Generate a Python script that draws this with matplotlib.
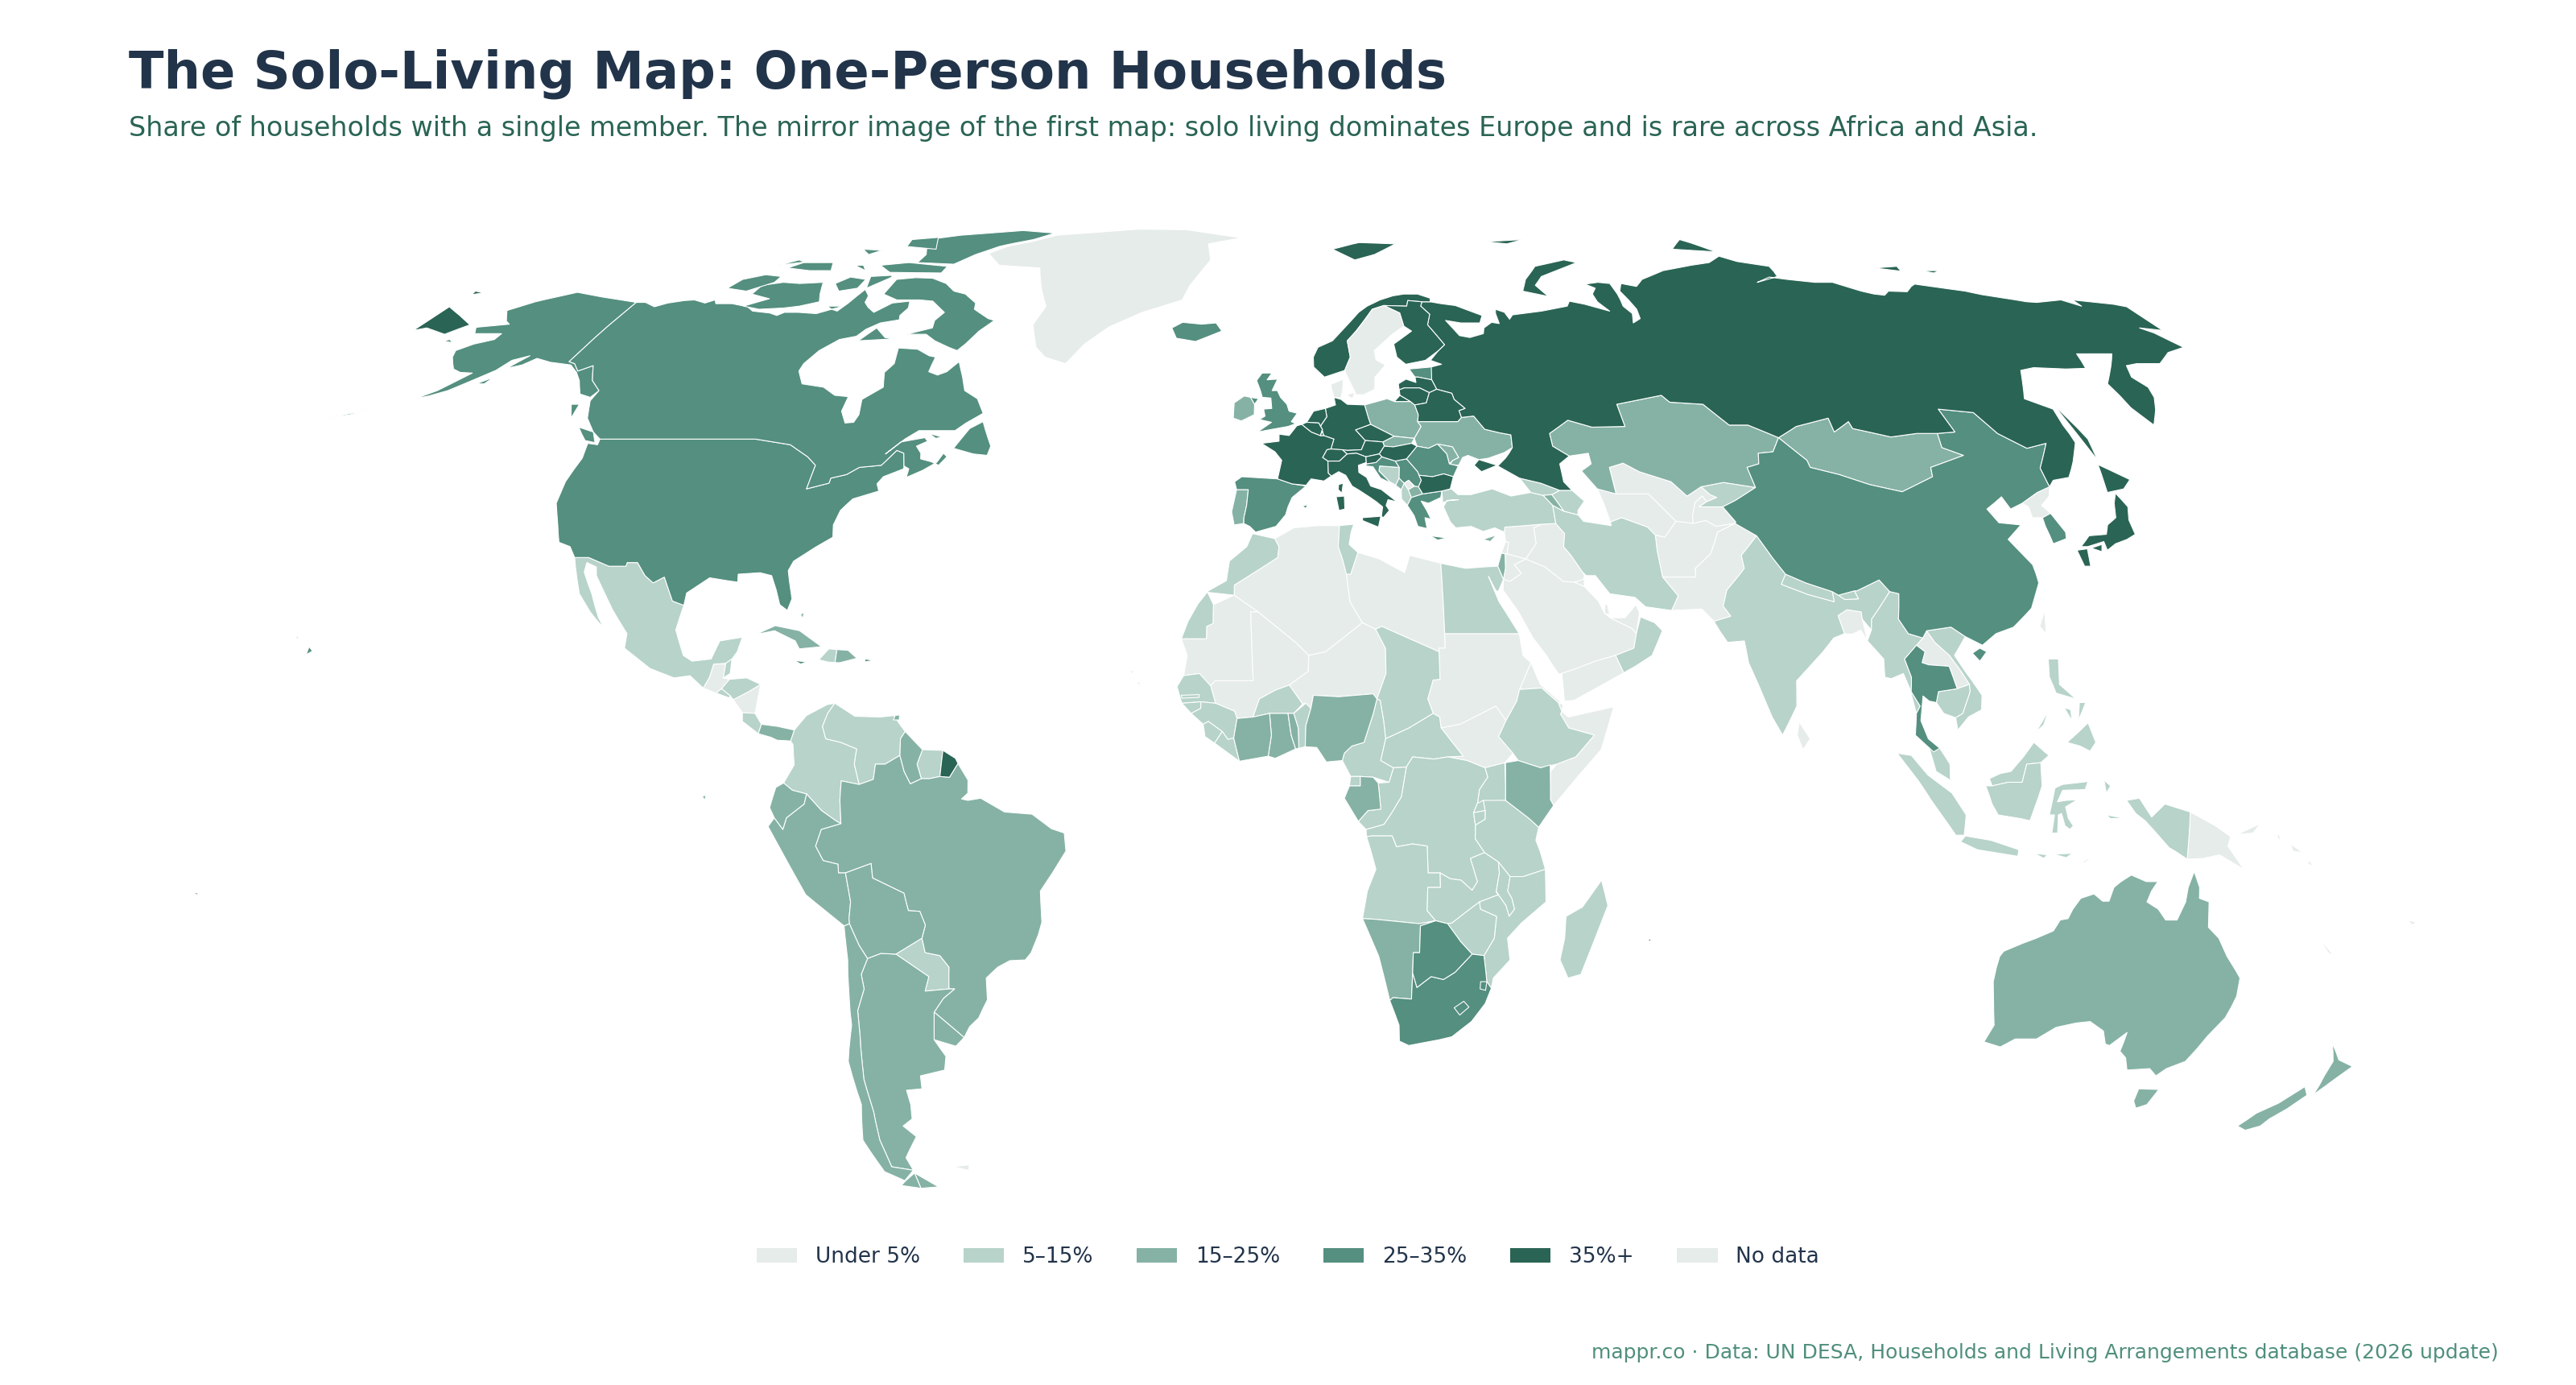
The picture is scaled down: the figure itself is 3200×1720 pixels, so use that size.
import numpy as np
import matplotlib
matplotlib.use("Agg")
import matplotlib.pyplot as plt
from matplotlib.patches import Polygon, Patch

TITLE = "The Solo-Living Map: One-Person Households"
SUBTITLE = "Share of households with a single member. The mirror image of the first map: solo living dominates Europe and is rare across Africa and Asia."
SOURCE = "mappr.co · Data: UN DESA, Households and Living Arrangements database (2026 update)"
LEGEND_LABELS = ["Under 5%", "5–15%", "15–25%", "25–35%", "35%+", "No data"]
LEGEND_COLORS = ["#e6ecea", "#b7d3ca", "#85b2a4", "#548f7f", "#2a6454", "#e6ecea"]

UNDER_5 = ["Algeria", "Libya", "Mauritania", "Mali", "Niger", "Sudan", "South Sudan", "Eritrea", "Djibouti", "Somalia",
           "Saudi Arabia", "Yemen", "UAE", "Qatar", "Kuwait", "Iraq", "Syria", "Jordan", "Lebanon", "Turkmenistan",
           "Uzbekistan", "Tajikistan", "Afghanistan", "Pakistan", "Bangladesh", "Laos", "North Korea", "Sri Lanka",
           "Papua New Guinea", "Guatemala", "Nicaragua"]
BAND_5_15 = ["Mexico", "Honduras", "El Salvador", "Belize", "Costa Rica", "Colombia", "Venezuela", "Suriname", "Paraguay",
             "Haiti", "Morocco", "Tunisia", "Egypt", "Turkey", "Iran", "Azerbaijan", "Georgia", "Senegal", "Gambia",
             "Guinea-Bissau", "Guinea", "Sierra Leone", "Liberia", "Burkina Faso", "Benin", "Chad", "Cameroon",
             "Central African Rep.", "Ethiopia", "Uganda", "Tanzania", "DR Congo", "Congo", "Angola", "Zambia", "Malawi",
             "Mozambique", "Zimbabwe", "Rwanda", "Burundi", "Madagascar", "Equatorial Guinea", "Oman", "India", "Myanmar",
             "Cambodia", "Vietnam", "Malaysia", "Indonesia", "Philippines", "Bhutan", "Nepal", "Kyrgyzstan", "Bosnia",
             "Albania"]
BAND_15_25 = ["Ireland", "Portugal", "Poland", "Ukraine", "Slovakia", "Moldova", "Kazakhstan", "Mongolia", "Australia",
              "New Zealand", "Brazil", "Argentina", "Chile", "Peru", "Ecuador", "Bolivia", "Uruguay", "Guyana", "Cuba",
              "Panama", "Dominican Rep.", "Namibia", "Nigeria", "Ghana", "Ivory Coast", "Togo", "Gabon", "Kenya", "Israel",
              "Armenia", "Montenegro", "North Macedonia", "Cyprus", "Trinidad", "Bahamas"]
BAND_25_35 = ["USA", "Canada", "Iceland", "UK", "Spain", "Romania", "Estonia", "Croatia", "Serbia", "Greece",
              "South Africa", "Lesotho", "Eswatini", "Botswana", "China", "South Korea", "Thailand", "Jamaica",
              "Puerto Rico"]
BAND_35_UP = ["Russia", "Norway", "Finland", "Germany", "France", "Netherlands", "Belgium", "Luxembourg", "Czechia",
              "Austria", "Hungary", "Italy", "Switzerland", "Latvia", "Lithuania", "Belarus", "Bulgaria", "Slovenia",
              "Japan", "French Guiana", "Mauritius", "Samoa", "Cape Verde"]
NO_DATA = ["Greenland", "Sweden", "Denmark", "Kosovo", "Taiwan", "Solomon Is.", "Falklands", "New Caledonia", "Fiji"]

SHAPES = {
"Canada": ["-141,69.6 -139,69.6 -136,68.9 -134,69.5 -131,69.9 -129,70 -126,69.5 -124.5,70 -123.5,69.4 -120,69.4 -116,68.9 -114,68.2 -110,67.9 -108,67.5 -107,68 -104,68 -100,67.8 -97.5,68.5 -96,68.2 -95,69.5 -94,71.8 -92,70.7 -91.5,69.6 -90,68.8 -88,68 -85.5,69.5 -82,69.8 -81.3,68.7 -82,67.5 -81.5,66.8 -85,66.3 -87,65.3 -88,64.2 -91,63.7 -93.5,62 -94.7,60 -94.7,58.9 -92.5,57 -88,56.5 -85,55.3 -82.3,55.1 -82.2,53 -80.5,51.3 -79,51.4 -78.7,52.5 -79.5,54.7 -76.7,56.5 -78,58.7 -77,60 -78,62.4 -74,62.2 -71,61.2 -69.6,61 -69.5,58.8 -67.5,58.3 -66,58.8 -64.5,60.3 -62.5,58 -61,56 -58,54.8 -56,52.7 -58.5,51.3 -60,50.2 -66.5,50.2 -68.5,49 -71,46.9 -69,48.6 -65,49.2 -64.3,48.7 -66,48 -64.8,47 -64.5,46.2 -62.5,45.8 -61,45.3 -60,46.5 -60.8,47 -61.5,45.7 -63.5,44.6 -66,43.6 -66,44.8 -67,45.2 -67.8,47 -69.2,47.4 -71,45.3 -74.7,45 -76.5,44 -79,43.5 -79,42.8 -82.5,42 -82.5,45.3 -84.5,46.5 -88.5,48.2 -95.2,49 -123,49 -125,50 -128,52 -130,54.5 -130,56 -133,57.5 -135.5,59.7 -137.5,58.9 -139.5,60 -141,60.3",
  "-123.5,48.5 -125.5,48.8 -128.3,50.7 -125,50", "-59.3,47.7 -55.5,46.9 -53,46.7 -52.8,48 -55.5,51.5 -57.5,50.5",
  "-61.5,66.7 -63.5,65 -65,63 -66,62 -68,62.5 -71.5,63.5 -74,64.5 -78,64.5 -73.5,65.5 -74,66.7 -73,68 -77,69.8 -80,70 -85,70 -89,71 -89,73.5 -85,73.8 -81,73.7 -77,72.8 -74,71.5 -71,71 -67.5,69.5 -67,68.5 -63,67",
  "-101.5,69.7 -105,69 -108,68.7 -113,68.5 -117,69 -113,70.2 -118,71 -118,72.5 -114,73 -110,72.8 -105,73 -103,71", "-116,73 -120,71.5 -125,72 -124,73.5 -120,74.3 -116,74",
  "-61,82.5 -70,83.1 -85,82 -92,81 -88,78 -88,76.5 -79,76.2 -76,78 -72,79.5 -65,81", "-80,74.6 -92,74.7 -96,76 -90,76.5 -80,75.8",
  "-87,79 -95,79.5 -96,81 -90,81.5", "-106,75 -111,75 -117,75.5 -115,76.5 -108,76.5", "-80,63.8 -87,63.5 -85,65.5 -82,64",
  "-96,72 -99.5,71.5 -102,72.8 -100,73.9 -96,73.5", "-90.5,73.9 -94,72 -95.5,74 -91,74.2", "-95.5,69 -99,69 -97.5,68.5",
  "-120,76 -117,77 -115,76.6", "-98,75 -100,76 -102,76", "-100,78.8 -105,79 -102,78", "-131,52 -133,54 -131.5,54", "-64.5,49.8 -62,49.3 -63,49.1"],
"USA": ["-123,49 -95.2,49 -88.5,48.2 -84.5,46.5 -82.5,45.3 -82.5,42 -79,42.8 -79,43.5 -76.5,44 -74.7,45 -71,45.3 -69.2,47.4 -67.8,47 -67,45.2 -66.9,44.8 -70,43.7 -70.7,42.7 -70,41.7 -74,40.6 -75.5,39 -76,37 -75.5,35.3 -78,33.9 -81,32 -81.5,30.7 -80,26.8 -80.4,25.2 -81.8,26 -82.8,28 -84,30 -86,30.4 -89.5,30.2 -89.3,29.1 -91,29.3 -94,29.7 -97.2,27.6 -97.2,25.9 -99.2,26.5 -101.4,29.8 -103,29 -104.6,30 -106.5,31.8 -108.2,31.8 -108.2,31.3 -111,31.3 -114.8,32.5 -117.1,32.5 -118.5,34 -120.6,34.6 -122,36.9 -124,40 -124.5,43 -124,46.3 -124.7,48.4 -122.8,48.2",
  "-141,69.6 -141,60.3 -139.5,60 -137.5,58.9 -135.5,59.7 -133,57.5 -130,56 -130.5,55 -133,55.5 -135.5,57.5 -137.5,58.7 -140,59.8 -144.5,60.2 -148,60.8 -149.5,59.8 -151.8,59.3 -150,61.2 -152.5,60.5 -153.5,59 -156,57.5 -158.5,56 -161,55.2 -163,54.8 -160.5,56 -157.5,58.6 -160,58.7 -162,59.2 -165,61 -166,62 -164,63 -161,63.7 -161,64.6 -166.5,64.6 -168,65.6 -162,66.1 -163.5,66.6 -166.5,68.3 -163,69.7 -157,71.3 -150,70.5 -145,70",
  "-165,54.4 -172,52.5 -178,51.6 -171,52.9", "-171,63.5 -168.7,63.2 -170,63.7", "-154.5,57 -152.5,58 -153,57",
  "-155.9,19.1 -155,19.6 -155.7,20.2", "-158.2,21.3 -157.7,21.4 -158,21.6"],
"Greenland": ["-73,78.2 -68,76 -58,75.5 -55,72 -52,69 -53,66 -50.5,62.5 -48,61 -43.5,60 -41,63 -37,65.7 -31,68 -23,70 -22,72.5 -20,75 -18.5,77 -20,80 -12,81.4 -27,83.3 -40,83.4 -60,82 -65,80.5 -70,79.5"],
"Mexico": ["-117.1,32.5 -114.8,32.5 -111,31.3 -108.2,31.3 -108.2,31.8 -106.5,31.8 -104.6,30 -103,29 -101.4,29.8 -99.2,26.5 -97.2,25.9 -97.8,22.5 -96,19 -94.5,18.2 -91.5,18.5 -90.5,21 -87,21.5 -87.5,19.5 -88.2,18.5 -89.1,17.9 -91,17.8 -91.4,16 -92.2,14.5 -94.5,16.2 -97,15.9 -101,17.2 -105.5,20 -105.5,22 -108.5,25.3 -112.5,30 -113,31.2 -114.8,31.8 -114.7,30.5 -112.5,27.5 -110.5,24.2 -109.5,23 -110.3,23.5 -112,25 -114.5,27.5 -115.5,29.5"],
"Guatemala": ["-92.2,14.5 -91.4,16 -91,17.8 -89.1,17.8 -89.2,15.9 -88.2,15.7 -89.3,14.4 -90.1,13.8"],
"Belize": ["-89.1,17.9 -88.2,18.5 -88.2,16.5 -89.2,15.9"],
"Honduras": ["-89.3,14.4 -88.2,15.7 -85.5,15.9 -83.2,15 -85,14 -87.3,12.9 -87.8,13.4"],
"El Salvador": ["-90.1,13.8 -89.3,14.4 -87.8,13.4 -88,13.15"],
"Nicaragua": ["-87.3,12.9 -85,14 -83.2,15 -83.7,11 -85.7,11.1"],
"Costa Rica": ["-85.7,11.1 -83.7,11 -82.6,9.5 -83,8.2 -85.6,9.9"],
"Panama": ["-83,8.2 -82.6,9.5 -80,9.2 -77.4,8.7 -77.9,7.2 -80,7.3 -81,7.7"],
"Cuba": ["-84.9,21.9 -82,23.1 -78,22.4 -74.2,20.2 -77.7,19.9 -78.5,21 -82,22.4"],
"Jamaica": ["-78.3,18.3 -76.3,18.1 -77.2,17.8"],
"Haiti": ["-74.4,18.4 -73,19.9 -71.7,19.8 -71.8,18 -73,18.1"],
"Dominican Rep.": ["-71.7,19.8 -69.9,19.7 -68.4,18.6 -71,18 -71.8,18"],
"Puerto Rico": ["-67.2,18.1 -65.7,18.3 -67,18.5"],
"Bahamas": ["-78.2,24.6 -77.7,24.1 -77.7,25"],
"Trinidad": ["-61.9,10.1 -61,10.1 -61,10.8 -61.7,10.7"],
"Colombia": ["-77.4,8.7 -75.6,10.7 -72.5,12.2 -71.3,12.4 -72.3,11 -73,9.2 -72.4,7.5 -70,7 -67.5,6.1 -67.8,4 -67,1.2 -69.8,1.7 -70,-1 -69.9,-4.2 -70.7,-3.8 -72.9,-2.4 -75.2,-0.1 -77.4,0.4 -78.8,1.4 -77.2,3.9 -77.5,6.7 -77.9,7.2"],
"Venezuela": ["-71.3,12.4 -70,11.7 -68,10.6 -64,10.5 -61.9,10.7 -60.8,9.4 -60,8.5 -60.7,7.5 -60.7,5.2 -63,4 -64.5,4 -64.8,1.9 -67,1.2 -67.8,4 -67.5,6.1 -70,7 -72.4,7.5 -73,9.2 -72.3,11"],
"Guyana": ["-60,8.5 -57.2,6 -58,4 -57.3,2 -59,1.3 -60,3 -60.7,5.2 -60.7,7.5"],
"Suriname": ["-57.2,6 -54,5.9 -54.4,2.3 -56,2 -57.3,2 -58,4"],
"French Guiana": ["-54,5.9 -52,4.8 -51.6,4.1 -52.9,2.2 -54.4,2.3"],
"Ecuador": ["-80.3,-3.4 -81,-2 -80,0.8 -78.8,1.4 -77.4,0.4 -75.2,-0.1 -75.6,-1.5 -78.4,-3.4 -79,-5", "-91.5,-0.4 -90.9,-0.3 -91.1,-1"],
"Peru": ["-81.3,-4.6 -80.3,-3.4 -79,-5 -78.4,-3.4 -75.6,-1.5 -75.2,-0.1 -72.9,-2.4 -70.7,-3.8 -69.9,-4.2 -73,-5 -74,-7.3 -72.9,-9.3 -70.6,-9.8 -70.6,-11 -69.5,-11 -69,-15 -69.5,-17.3 -69.5,-18 -70.4,-18.3 -76,-14 -78.5,-9.5"],
"Bolivia": ["-69.5,-11 -65.4,-9.7 -65.3,-11.7 -60.5,-13.8 -60,-16.2 -58.2,-16.3 -57.5,-18.2 -58.2,-20 -62.6,-22.2 -65,-22.1 -67.2,-22.8 -68.3,-21 -69.5,-18 -69.5,-17.3 -69,-15"],
"Paraguay": ["-58.2,-20 -57.9,-22 -55.6,-22.4 -54.3,-24 -54.7,-27 -58.6,-27.3 -57.7,-25.3 -62.6,-22.2"],
"Chile": ["-69.5,-18 -68.3,-21 -67.2,-22.8 -68.5,-25 -68.4,-27 -70,-30 -70.5,-33.5 -71,-36 -71.7,-39.5 -71.8,-44 -72.5,-48 -72.3,-50 -72.3,-51.8 -68.6,-52.3 -71,-53.8 -74,-52.5 -75.5,-48 -73.5,-43 -73.5,-37 -71.5,-32 -70.4,-23 -70.4,-18.3",
  "-68.6,-52.7 -68.6,-54.9 -72,-54.5 -71,-53.9"],
"Argentina": ["-65,-22.1 -62.6,-22.2 -57.7,-25.3 -58.6,-27.3 -54.7,-27 -53.8,-27 -55.8,-28.3 -57.6,-30.2 -58.4,-34 -57,-36.3 -57.7,-38.2 -62,-39 -62.3,-40.8 -65,-41 -65,-43 -65.5,-45 -67.5,-46 -65.8,-47.5 -69,-50.5 -68.6,-52.3 -72.3,-51.8 -72.3,-50 -72.5,-48 -71.8,-44 -71.7,-39.5 -71,-36 -70.5,-33.5 -70,-30 -68.4,-27 -68.5,-25 -67.2,-22.8",
  "-68.6,-52.7 -65.2,-54.7 -68.6,-54.9"],
"Uruguay": ["-57.6,-30.2 -53.4,-33.7 -55,-34.9 -58.4,-34"],
"Brazil": ["-51.6,4.1 -50,1.8 -50,0 -51,-0.8 -50,-1 -48,-0.7 -44.3,-2.6 -40,-2.9 -37,-4.9 -35,-5.5 -34.8,-8 -37,-11 -39,-13.5 -39,-17.8 -39.7,-19.6 -41,-22 -42,-23 -44.5,-23.1 -46.5,-24 -48.5,-25.5 -48.7,-28.5 -50.5,-31 -52.2,-32.2 -53.4,-33.7 -57.6,-30.2 -55.8,-28.3 -53.8,-27 -54.7,-27 -54.3,-24 -55.6,-22.4 -57.9,-22 -58.2,-20 -57.5,-18.2 -58.2,-16.3 -60,-16.2 -60.5,-13.8 -65.3,-11.7 -65.4,-9.7 -69.5,-11 -70.6,-11 -70.6,-9.8 -72.9,-9.3 -74,-7.3 -73,-5 -69.9,-4.2 -70,-1 -69.8,1.7 -67,1.2 -64.8,1.9 -64.5,4 -63,4 -60.7,5.2 -60,3 -59,1.3 -57.3,2 -56,2 -54.4,2.3 -52.9,2.2"],
"Falklands": ["-61,-51.8 -58,-51.5 -58.5,-52.3"],
"Iceland": ["-24,65.5 -22,66.4 -18,66.1 -15,66.3 -13.6,65 -18.7,63.4 -22.7,63.9"],
"Ireland": ["-10,52 -10,54.2 -8.2,55.2 -7,55 -6.2,54 -6.2,52.5 -8.5,51.6"],
"UK": ["-7,55 -5.5,54.8 -6.2,54", "-5.5,50 -3.5,50.3 0,50.8 1.4,51.2 0.6,51.5 1.7,52.7 0.2,53 -0.2,54 -1.4,55 -2,56 -3,56 -2,57.7 -4,57.6 -3.1,58.6 -5,58.6 -6,57.5 -5.2,56 -4.8,55 -3.2,54.9 -3,53.4 -4.5,53.3 -4.2,52.3 -5.2,51.8 -3,51.4"],
"France": ["-1.8,43.4 -1.1,46 -2.3,47.2 -4.7,48.4 -1.6,48.7 -1.6,49.7 0.2,49.5 1.6,50.9 2.5,51.1 4.2,50 5.8,49.5 6.4,49.5 8.2,49 7.6,47.6 6.9,47.5 6.1,46.4 7,45.9 7,44.2 7.5,43.8 6.2,43.1 4,43.4 3.1,42.5 0.7,42.7", "8.6,41.9 9.2,41.4 9.5,42.8 8.7,42.6"],
"Spain": ["-9.2,43 -8,43.7 -1.8,43.4 0.7,42.7 3.1,42.4 0.7,40.8 0,39.5 -0.4,38.4 -2,36.8 -5.4,36 -6.4,36.8 -7.4,37.2 -7.4,38 -7,39.7 -6.8,41.9 -8.8,41.9", "2.4,39.6 3.4,39.8 3,39.3"],
"Portugal": ["-8.8,41.9 -6.8,41.9 -7,39.7 -7.4,38 -7.4,37.2 -9,37 -9.5,38.8"],
"Netherlands": ["3.4,51.4 4.7,53 6.9,53.4 7.1,52.2 6,51 5.9,50.8 5.6,51.3"],
"Belgium": ["2.5,51.1 3.4,51.4 5.6,51.3 5.9,50.8 6.2,50.4 5.8,49.5 4.2,50"],
"Luxembourg": ["5.8,49.5 6.2,50.1 6.4,49.5"],
"Germany": ["6.9,53.4 8.8,53.9 8.6,55 9.9,54.7 11,54 14.2,53.9 14.7,52 15,51.1 12.2,50.3 13.8,48.8 13,47.5 10.5,47.4 7.6,47.6 8.2,49 6.4,49.5 6.2,50.1 6.2,50.4 5.9,50.8 6,51 7.1,52.2"],
"Switzerland": ["6.1,46.4 6.9,47.5 7.6,47.6 9.6,47.5 10.4,46.9 9,45.9 7,45.9"],
"Austria": ["9.6,47.5 10.5,47.4 13,47.5 13.8,48.8 16.9,48.6 17.1,48 16.1,46.9 13.7,46.5 12.1,47 10.4,46.9"],
"Italy": ["7,45.9 9,45.9 10.4,46.9 12.1,47 13.7,46.5 13.7,45.7 12.3,45.3 12.3,44.3 13.6,43.6 14.2,42.4 16,41.9 18.5,40.2 17,40.5 16.6,39.7 17.1,39 16,38 15.7,38.2 16,39.5 15,40.2 14,40.8 12.2,41.8 11,42.4 10,43.9 8.8,44.4 7.5,43.8 7,44.2", "12.5,38 15.6,38.2 15.1,36.7 12.5,37.6", "8.2,40.9 9.6,41 9.6,39.2 8.6,39"],
"Poland": ["14.2,53.9 18.5,54.8 19.8,54.4 22.8,54.4 23.5,53.9 23.9,52.5 23.6,51.5 24.1,50.8 22.6,49.1 19,49.4 15,51.1 14.7,52"],
"Denmark": ["8.6,55 8.1,56.9 10.6,57.7 10.3,56 9.9,54.9", "11,55.4 12.6,55.7 12,54.8"],
"Sweden": ["11,59 12.3,61 12,63.5 14,65 15.5,66.3 18,68.5 20.6,69.1 23.7,67.9 24,65.8 21.3,64.5 17.2,62 17.3,60.6 19,59.8 16.7,58 16.4,56.2 14.2,55.4 12.8,55.4 11.2,58.5", "18.2,57 19,57.8 18.8,57.4"],
"Norway": ["5,61 5,59.5 7,58 9,58.5 11,59 12.3,61 12,63.5 14,65 15.5,66.3 18,68.5 20.6,69.1 25.5,69 26,69.9 29,69.7 30.8,69.7 31,70.3 28.5,71 25.5,71 23,70.7 20,70 17,69 15,68 13,66.5 11,65 9,63.5 6,62.5", "11,79 16,77 21,78 27,80 18,80.3"],
"Finland": ["20.6,69.1 23.7,67.9 24,65.8 25.4,65 21.3,63 21.5,61 23,59.9 27,60.5 30,62 31.5,62.9 29,66 30,67.7 28.5,69 29,69.7 26,69.9 25.5,69"],
"Estonia": ["23.5,59.2 28,59.5 27.5,57.6 25,58 24.4,58"],
"Latvia": ["21,56.1 21,57 22.6,57.7 24.4,57.2 24.4,58 25,58 27.5,57.6 28.1,56.2 26.6,55.7 24.9,56.4 22,56.4"],
"Lithuania": ["21,56.1 22,56.4 24.9,56.4 26.6,55.7 25.7,54.2 23.5,53.9 22.8,54.4 21,55.3"],
"Belarus": ["23.5,53.9 25.7,54.2 26.6,55.7 28.1,56.2 30.8,55.6 31,54.7 32.7,53.4 31.5,53.1 31.7,52.1 30.9,51.5 23.6,51.5 23.9,52.5"],
"Ukraine": ["24.1,50.8 23.6,51.5 30.9,51.5 31.7,52.1 34,52.3 35.5,50.4 38,49.9 40,49.6 39.8,47.8 38.2,47.1 35.2,46.3 33.5,46.1 31.7,46.7 30.7,46.4 29.8,45.3 28.3,45.4 28.9,46 30,46.4 29.2,47.9 26.6,48.3 24.9,47.7 22.9,48 22.6,49.1"],
"Moldova": ["26.6,48.3 29.2,47.9 30,46.4 28.9,46 28.2,45.5 28,46.9"],
"Slovakia": ["17.1,48 16.9,48.6 19,49.4 22.6,49.1 22,48.4 18.7,47.9"],
"Hungary": ["16.1,46.9 17.1,48 18.7,47.9 22,48.4 22.9,48 20.8,46.2 18.8,45.9 16.5,46.5"],
"Czechia": ["12.2,50.3 15,51.1 19,49.4 16.9,48.6 13.8,48.8"],
"Slovenia": ["13.7,46.5 16.1,46.9 16.5,46.5 15.4,45.7 13.7,45.5"],
"Croatia": ["13.6,45.2 13.7,45.5 15.4,45.7 16.5,46.5 18.8,45.9 19.4,45 16,45.2 15.8,44.5 17.5,43 18.5,42.5 16,43.5 14.8,45.1"],
"Bosnia": ["15.8,44.5 16,45.2 19.4,45 19.2,43.5 18.5,42.5 17.5,43"],
"Serbia": ["18.8,45.9 20.8,46.2 22.5,44.4 23,43.2 22.4,42.3 21.7,42.4 20.8,43.2 20,42.8 19.2,43.5 19.4,45"],
"Kosovo": ["20,42.8 20.8,43.2 21.7,42.4 20.6,41.9"],
"Montenegro": ["18.5,42.5 19.2,43.5 20,42.8 19.4,41.9"],
"Albania": ["19.4,41.9 20,42.8 20.6,41.9 21,40.8 20.2,39.7 19.3,40.6"],
"North Macedonia": ["20.6,41.9 21.7,42.4 22.4,42.3 23,41.3 21,40.8"],
"Greece": ["20.2,39.7 21,40.8 23,41.3 26.3,41.7 26,40.8 23.8,40 22.6,40.3 23.4,39 24,37.8 23,38 23.2,36.5 21.7,36.8 21.2,38.3", "23.6,35.5 26.3,35.2 24.8,34.9"],
"Romania": ["20.8,46.2 22.9,48 24.9,47.7 26.6,48.3 28,46.9 28.2,45.5 29.7,45.2 28.6,43.7 27,44.1 25,43.7 22.7,43.9 22.5,44.4"],
"Bulgaria": ["22.7,43.9 25,43.7 27,44.1 28.6,43.7 27.8,42 26.3,41.7 23,41.3 22.4,42.3 23,43.2"],
"Turkey": ["26.3,41.7 28,42 29,41.2 31.2,41.2 35,42 38,41 41.5,41.5 43.5,41.1 44.8,39.7 44.8,37.2 42.4,37.1 38,36.8 36.2,36.7 36,36 34.5,36.6 32.5,36.1 30.6,36.8 28,36.6 27.2,37.4 26.3,39.5 27,40.4 29,40.5 27.5,40.4 26.2,40.1 26.3,40.8"],
"Cyprus": ["32.3,35 34.6,35.6 33.5,34.7"],
"Georgia": ["40,43.5 43.5,42.8 46.5,41.8 45,41.2 43.5,41.1 41.5,41.5"],
"Armenia": ["43.5,41.1 45,41.2 46.5,38.9 44.8,39.7"],
"Azerbaijan": ["45,41.2 46.5,41.8 48.6,41.8 50.3,40.3 48.9,39 48.8,38.4 46.5,38.9"],
"Russia": ["27.9,59.5 30,59.9 28,60.5 30,62 31.5,62.9 29,66 30,67.7 28.5,69 29,69.7 30.8,69.7 33,69.4 36,69.1 41,67.5 40,66.3 36,66.3 33,66.7 35,64.3 37,64 40,64.6 40.5,65.5 42.5,66.4 44,66.2 44,67.8 44.3,68.5 46,68 46.5,66.9 47.5,67.6 54,68.2 60,69 61,69.8 64,69.3 68.5,68.2 67,69.7 67,71 68.5,72 66.8,72.7 70,73 72.5,72.8 72.5,71 72,69 73,67.8 72,66.3 74,67 74.5,68.5 73.5,71.5 75,72.8 78,72.3 80.5,73.5 87,75 95,76 100,76.5 104.3,77.7 107,76.7 113,75.8 112,74 106,73 110,73.9 113.5,73.5 119,73 123,73 127,71.5 129,71 131,70.8 133,71.5 137,71.4 139.5,72.3 141,72.7 150,71.5 152.5,70.9 160,69.7 162,69.6 168,70 170.5,69 170.5,70 178,69.3 180,68.9 180,65.1 176,65.5 177.5,64.7 179.5,62.5 175,61.7 170.5,60 166,60 163.5,59.7 162,58 163,56.5 162,55 160,53.2 157,51 155.8,53.5 156,57 158.5,58.5 163.5,61.5 160,61.5 156.5,61.5 155,59.3 151,59.2 145,59.4 142,59 137.5,54.8 141.2,53.3 140.5,51 140.3,48.5 137.5,45.8 135,43.6 132,43.2 130.7,42.3 131,44.9 135,48.4 131,47.7 127.5,49.8 126,52.8 120,53.3 120,50 116.7,49.8 113,49.8 108,49.3 102,50.5 102,51.5 98.3,50 98.7,52 92,50.8 87.8,49.2 83.4,51 80,51 77,54 71,54.3 70,55.3 61,54 61,50.8 55,50.7 51,51.7 47,49.8 47,48 49.5,46.6 47.5,45.5 47.5,43 48.6,41.8 46.5,41.8 43.5,42.8 40,43.5 36.6,45.2 38.2,46.3 39,47 39.8,47.8 40,49.6 38,49.9 35.5,50.4 34,52.3 31.7,52.1 31.5,53.1 32.7,53.4 31,54.7 30.8,55.6 28.1,56.2 27.5,57.6",
  "19.8,54.4 22.8,54.4 21,55.3", "33.5,46.1 35,45.7 36.5,45.3 33.6,44.4 32.5,45.3", "142,54 143,49 142,46 141.7,50",
  "52,71.5 57,70.6 55.5,72.5 58,74 68.5,76.5 66,77 58,75.8 54,73.5", "95,79 105,78.5 100,81", "137,75.5 143,75.8 142,74.9", "147,75 151,75 149,74.6", "50,80.5 60,81 55,80",
  "-180,68.9 -175,67.5 -170,66 -172.5,64.5 -178,65.5 -180,65.1", "-180,71.5 -177.5,71.2 -179.5,70.9"],
"Kazakhstan": ["47,48 47,49.8 51,51.7 55,50.7 61,50.8 61,54 70,55.3 71,54.3 77,54 80,51 83.4,51 87.8,49.2 85.7,47.2 83,47 82.3,45.5 80,45 80.2,42.2 75,42.9 70.9,42.3 68,41 66,43 61,44.4 58.6,45.6 56,45 56,41.3 53,42 51,44.5 53,45.5 53,47 49.5,46.6"],
"Uzbekistan": ["56,45 58.6,45.6 61,44.4 66,43 68,41 70.9,42.3 72,41.2 73,40.8 71,40.2 70.6,41 69,40.1 68,38.2 67.8,37.2 65,37.5 61.5,41.3 56,41.3"],
"Turkmenistan": ["53,42 56,41.3 61.5,41.3 65,37.5 62.5,35.3 61,35.6 60,36.7 56,38 54,37.4 53.5,40"],
"Kyrgyzstan": ["70.9,42.3 75,42.9 80.2,42.2 76,40.4 73.5,39.5 69.5,39.5 71,40.2 73,40.8 72,41.2"],
"Tajikistan": ["67.8,37.2 68,38.2 69,40.1 70.6,41 71,40.2 69.5,39.5 73.5,39.5 75,37.4 74.8,37.2 71.5,36.8 70,37.6"],
"Afghanistan": ["60.9,29.8 60.8,33.5 61,35.6 62.5,35.3 65,37.5 67.8,37.2 70,37.6 71.5,36.8 74.8,37.2 71.5,36 69.5,33 66.5,31 66.3,29.8"],
"Pakistan": ["60.9,29.8 66.3,29.8 66.5,31 69.5,33 71.5,36 74.8,37.2 77.8,35.5 74.5,32.8 74.5,31 71,28 70,25.8 71,24.4 68.2,23.7 66.5,25.4 61.6,25.2 63,27.2"],
"India": ["68.2,23.7 71,24.4 70,25.8 71,28 74.5,31 74.5,32.8 77.8,35.5 79.5,32.5 81,30.2 80,28.8 84,27.4 88,26.4 88,27.8 88.9,27.3 89.8,26.7 92,26.8 91.6,27.9 92,27.9 96,29.4 97.3,27.8 93.5,24 93.2,22.5 92,24 92,25 89.8,25.3 88.2,24.5 88.8,22 87,21.4 85,19.5 80.3,15.5 80,12 77.5,8 76,10.5 73,18 72.7,21 70,20.8 69,22.3"],
"China": ["73.5,39.5 76,40.4 80.2,42.2 80,45 82.3,45.5 83,47 85.7,47.2 87.8,49.2 91,46 91,45 95.5,44 100,42.6 105,41.6 111.5,43.7 112,45 119,46.7 116,47.8 116.7,49.8 120,50 120,53.3 126,52.8 127.5,49.8 131,47.7 135,48.4 131,44.9 130.7,42.3 128,41.5 124.4,40 122,39.2 121.5,40.9 118,39.2 119,37.3 122.5,37 119.3,35 121.8,31.5 121.8,29 119.5,25.5 116,22.9 113,22 110.5,20.4 108,21.6 106,22.9 102,22.4 101.2,21.4 99,22 97.8,24 98.7,27.5 97.3,27.8 96,29.4 92,27.9 91.6,27.9 88.9,27.3 88,27.8 84,29 81,30.2 79.5,32.5 77.8,35.5 74.8,37.2 75,37.4", "108.7,19.3 110,20 111,19.5 109.7,18.2"],
"Mongolia": ["87.8,49.2 92,50.8 98.7,52 98.3,50 102,51.5 102,50.5 108,49.3 113,49.8 116.7,49.8 116,47.8 119,46.7 112,45 111.5,43.7 105,41.6 100,42.6 95.5,44 91,45 91,46"],
"North Korea": ["124.4,40 128,41.5 130.7,42.3 129.7,41 127.5,39.7 128.4,38.6 126.7,38 125,38 125.2,39.5"],
"South Korea": ["126.7,38 128.4,38.6 129.4,36 129,35.1 126.5,34.4 126.5,36.8"],
"Japan": ["130.9,34 133,35.5 136,35.7 137,37 139,38 140,40 141.3,41.4 142,39.5 141,37.7 140.8,35.7 139,35 136.8,34.4 135,33.5 135,34.7 132,34", "140,41.5 141.5,45.4 145.3,43.3 143.2,42", "130,33.5 131.8,33.7 131.2,31.3 130.2,31.3", "132.5,33.8 134.5,34.3 134,33.3"],
"Taiwan": ["120.2,23 121.5,25.2 121,22"],
"Nepal": ["80,28.8 81,30.2 84,29 88,27.8 88,26.4 84,27.4"],
"Bhutan": ["88.9,27.3 91.6,27.9 92,26.8 89.8,26.7"],
"Bangladesh": ["88.2,24.5 89.8,25.3 92,25 92,24 92.3,21 91.5,22.5 90,21.9 88.8,22"],
"Sri Lanka": ["79.8,8 80.2,9.8 81.8,7.5 80.6,6"],
"Myanmar": ["92.3,21 93.2,22.5 93.5,24 97.3,27.8 98.7,27.5 97.8,24 99,22 101.2,21.4 100,20.4 97.8,18.5 98.5,16 98.2,14 99.4,12 98.7,11 98,14.5 97.3,16.5 95.3,15.8 94.3,16 94.5,18.5"],
"Thailand": ["100,20.4 101.2,19.5 100.5,18 101.5,17.7 104.7,17.5 105.5,14.4 102.5,14 102,12.5 100.9,12.7 100,13.4 99.3,10 100.3,7.5 102,6.2 101,5.7 98.3,8 98.7,11 99.4,12 98.2,14 98.5,16 97.8,18.5"],
"Laos": ["100,20.4 101.2,21.4 102,22.4 103,20.8 105,19 106.5,16.8 107.5,15 105.5,14.4 104.7,17.5 101.5,17.7 100.5,18 101.2,19.5"],
"Vietnam": ["102,22.4 106,22.9 108,21.6 105.8,19 107,17 109.3,13.5 109,11.5 106.8,10.5 105,8.7 104.8,10.4 106,11 107.5,14 107.5,15 106.5,16.8 105,19 103,20.8"],
"Cambodia": ["102.5,14 105.5,14.4 107.5,15 107.5,14 106,11 104.8,10.4 103,11 102,12.5"],
"Malaysia": ["100.3,6.4 102,6.2 103.5,4 103.5,2 104.2,1.4 101.3,3", "109.6,2 111.3,2.7 113,3 115,5 116.8,7 119,5.2 117.7,4.2 115.5,4 114.7,1.5 112.5,1.5 110,1"],
"Indonesia": ["109,1 110,1 112.5,1.5 114.7,1.5 115.5,4 117.7,4.2 117.8,1 116,-3.8 114.5,-3.5 111,-3 110,-1.5", "95.3,5.5 97.5,5.2 100,2.5 103.7,0 106,-3 105.8,-5.8 104.5,-5.8 100.5,-1 98.5,1.7", "105.3,-6.7 106,-5.9 110,-6.5 114.5,-7.8 114.4,-8.7 108,-7.8", "117,-8.3 119,-8.5 118.5,-9", "120,-8.4 123,-8.3 122,-8.9", "123.6,-10.3 127,-8.4 125,-9.3", "119.5,-5.5 119.8,-3 119,-3 119.8,0.7 121,1.2 125,1.6 124.5,0.5 121,0.4 120.2,-1.2 121.5,-1 123.3,-0.9 121.5,-1.9 122,-3.5 122.8,-4.5 122.3,-5 121.5,-4.5 120.9,-2.8 120.4,-3 120.4,-5.5", "127.5,1.8 128.5,1 127.8,0", "128,-3 130.8,-3.5 128.5,-3.5", "141,-2.6 137,-1.5 135,-3.3 133,-0.7 131,-1 132.5,-2.8 134,-3.8 138,-7.5 139,-8 141,-9.1"],
"Papua New Guinea": ["141,-2.6 145,-4.5 147.5,-6 147.2,-7.3 150,-10.5 146,-8.5 143.5,-9 141,-9.1", "148.5,-5.7 152,-4.2 151,-5.5", "155,-5.5 155.5,-6.8 154.8,-6"],
"Solomon Is.": ["157,-7 159,-8.2 157.5,-8", "160,-9.3 161,-10 160,-9.8"],
"Philippines": ["120.3,16 120.6,18.5 122.2,18.5 121.7,15 124,13 121,13.8", "122,7 124,8.5 125.5,9.7 126.5,7 125.5,5.8 124,6.5", "122,11.8 123,10 123,11.5", "124,10 125.5,12.5 124.5,12.5", "117.2,8.4 119.5,11.4 118.5,9.4"],
"Iran": ["44.8,39.7 46.5,38.9 48.8,38.4 49.5,37.5 54,36.9 54,37.4 56,38 60,36.7 61,35.6 60.8,33.5 60.9,29.8 63,27.2 61.6,25.2 57.5,25.7 56,27 52,27.5 50,30 48.5,30 48,30.5 46.5,32.8 45.5,34 46,35.8 44.8,37.2"],
"Iraq": ["42.4,37.1 44.8,37.2 46,35.8 45.5,34 46.5,32.8 48,30.5 48.2,30 48,29.5 46.5,29.1 44.7,29.2 42,31.2 39,32.3 41,34.4 41,36.6"],
"Syria": ["36,36 36.2,36.7 38,36.8 42.4,37.1 41,36.6 41,34.4 39,32.3 36,33 36.5,34.6 36,34.7"],
"Lebanon": ["35.1,33.1 36,33 36.5,34.6 36,34.7"],
"Israel": ["34.3,31.3 35.1,33.1 35.7,33 35.5,31 35,29.5"],
"Jordan": ["35,29.5 35.5,31 35.7,33 36,33 39,32.3 37,31.5 38,30.3 36,29.2"],
"Saudi Arabia": ["35,29.5 36,29.2 38,30.3 37,31.5 39,32.3 42,31.2 44.7,29.2 46.5,29.1 48,28.5 50,26.5 50.8,24.8 51.6,24.2 55,22.7 55.6,22 55,20 52,19 48.7,18.2 46,17.3 43.3,16.5 42.8,16.4 41,19 39,21.5 37,25 34.8,28"],
"Yemen": ["43.3,16.5 46,17.3 48.7,18.2 52,19 53.1,16.6 45,12.8 43.5,12.7"],
"Oman": ["52,19 55,20 55.6,22 56.5,24.3 58.7,23.5 59.8,22.4 57.8,19 55,17.5 53.1,16.6"],
"UAE": ["51.6,24.2 55,22.7 55.6,22 56.4,24.9 56,26 54,24.2"],
"Qatar": ["50.8,24.8 51.6,24.6 51.4,26 51,26"],
"Kuwait": ["48,28.5 46.5,29.1 48,29.5 48.2,30"],
"Morocco": ["-5.9,35.8 -2.2,35.1 -1.5,34 -1.7,32.5 -5,30.7 -8.7,28.7 -8.7,27.3 -13,27.7 -12,26 -12,23.4 -13,23 -13,21.3 -17,21.3 -16,23.7 -14.5,26.1 -12.9,27.9 -10,29.3 -9.6,32 -6.8,34"],
"Algeria": ["-2.2,35.1 1,36.6 5,36.9 8.6,36.9 8.3,34 9,32.1 9.5,30.2 10,26.4 11.9,23.5 6,19.5 3.3,19 1.2,20.8 -4.8,25 -8.7,27.3 -8.7,28.7 -5,30.7 -1.7,32.5 -1.5,34"],
"Tunisia": ["8.6,36.9 11,37.1 10.5,36 10.1,34.3 11.5,33.2 10.2,30.2 9.5,30.2 9,32.1 8.3,34"],
"Libya": ["11.5,33.2 15,32.3 19,30.4 20,32.8 25,31.7 25,22 25,20 24,20 24,19.5 15,23 14,22.6 11.9,23.5 10,26.4 9.5,30.2 10.2,30.2"],
"Egypt": ["25,31.7 29,31 32,31.2 34.3,31.3 35,29.5 34,27.8 33.6,28 32.6,29.9 34,26.4 36.9,22 25,22"],
"Sudan": ["25,22 36.9,22 37.3,19 38.5,18 36.5,14.3 36,12.7 34.2,10 32.7,12 27,9.5 24,9 23.8,10.5 22.8,11 22,13 22.9,15.6 24,15.7 24,19.5 24,20 25,20"],
"South Sudan": ["24,9 27,9.5 32.7,12 34.2,10 33,7.8 35.2,5.5 33.9,4.2 30.8,3.5 28,4.5 25,5 27.4,5.1"],
"Eritrea": ["36.5,14.3 38.5,18 39.8,15 43,12.5 42.5,12.5 40,14.5"],
"Ethiopia": ["36,12.7 36.5,14.3 40,14.5 42.5,12.5 43,11.3 42.8,10.9 44,9 48,8 45,5 42,4 39.5,3.5 36,4.5 35.2,5.5 33,7.8 34.2,10"],
"Djibouti": ["42.5,12.5 43.3,12.2 43,11.3 42.8,10.9"],
"Somalia": ["43,11.3 44,10.5 51.2,11.9 49,6 45,2 41.5,-1.7 41,-0.9 41,2.9 42,4 45,5 48,8 44,9 42.8,10.9"],
"Kenya": ["34,4.2 36,4.5 39.5,3.5 41,3.9 41,-0.9 41.5,-1.7 39.2,-4.7 37.7,-3.5 34,-1 34,1"],
"Uganda": ["30.8,3.5 33.9,4.2 34,1 34,-1 29.6,-1.4 29.9,0.5 31.2,2.2"],
"Tanzania": ["30.5,-1 34,-1 37.7,-3.5 39.2,-4.7 38.8,-6.5 39.5,-8 40.4,-10.5 37,-11.5 34.9,-11.5 33,-9.5 30.8,-8.2 29.3,-6.3 29.3,-4.4 30.8,-3.6 30.8,-2.4"],
"Rwanda": ["29.6,-1.4 30.5,-1 30.8,-2.4 29,-2.7"],
"Burundi": ["29,-2.7 30.8,-2.4 30.8,-3.6 29.3,-4.4"],
"DR Congo": ["12.2,-5 12.3,-6 13.1,-5.9 16.3,-5.9 17,-7.4 19.5,-7 21.8,-7.3 22,-11 23.9,-11 25.5,-11.8 27.2,-12 29,-13.4 29.8,-12.2 28.6,-9 30.8,-8.2 29.3,-6.3 29.3,-4.4 29,-2.7 29.6,-1.4 29.9,0.5 31.2,2.2 30.8,3.5 28,4.5 25,5 22.8,4.7 19.5,5 18.5,3.6 17.7,-0.5 16,-3 15,-4.3 13,-4.8"],
"Congo": ["11,-3.9 12.2,-5 13,-4.8 15,-4.3 16,-3 17.7,-0.5 18.5,3.6 16.5,3.5 15.8,1.5 14.1,1.4 14.5,-2.2 12.5,-2.4"],
"Gabon": ["8.8,-0.7 9.6,1 11.3,1 11.3,2.3 13.3,2.2 14.1,1.4 14.5,-2.2 12.5,-2.4 11,-3.9"],
"Equatorial Guinea": ["9.6,1 11.3,1 11.3,2.3 9.8,2.3"],
"Cameroon": ["8.5,4.5 9.8,2.3 11.3,2.3 13.3,2.2 15.8,1.5 16.5,3.5 14.5,4.5 15.3,7.5 15,10 14.5,12.8 14,13 13.4,11 11.9,7 10,6.5 8.8,5.5"],
"Central African Rep.": ["14.5,4.5 16.5,3.5 18.5,3.6 19.5,5 22.8,4.7 25,5 27.4,5.1 24,9 23.8,10.5 22.8,11 19,9 15.3,7.5"],
"Chad": ["14,13 14.5,12.8 15,10 15.3,7.5 19,9 22.8,11 22,13 22.9,15.6 24,15.7 24,19.5 15,23 14,22.6 15.5,20 15.5,16.5"],
"Niger": ["0.2,14.9 2.3,12.3 2.8,12.4 3.6,11.7 4,13.5 8,13.3 13.4,13.7 14,13 15.5,16.5 15.5,20 14,22.6 11.9,23.5 6,19.5 3.3,19 3.2,16.8"],
"Nigeria": ["2.7,6.4 4.5,6.3 6,4.3 8.5,4.5 8.8,5.5 10,6.5 11.9,7 13.4,11 14,13 13.4,13.7 8,13.3 4,13.5 3.6,11.7 2.8,9.3"],
"Benin": ["1.7,6.2 2.7,6.4 2.8,9.3 3.6,11.7 2.8,12.4 0.9,11 1.6,9"],
"Togo": ["1.2,6.1 1.7,6.2 1.6,9 0.9,11 0,11 0.5,8"],
"Ghana": ["-3.1,5.1 -2,4.8 1.2,6.1 0.5,8 0,11 -2.9,11 -2.6,8"],
"Ivory Coast": ["-7.6,4.4 -3.1,5.1 -2.6,8 -2.9,11 -5.5,10.5 -8,10.3 -8.5,7.6"],
"Burkina Faso": ["-5.5,10.5 -2.9,11 0,11 0.9,11 2.3,12.3 0.2,14.9 -2,14.2 -4.5,13"],
"Mali": ["-11.4,12.4 -8.4,11.3 -8,10.3 -5.5,10.5 -4.5,13 -2,14.2 0.2,14.9 3.2,16.8 3.3,19 1.2,20.8 -4.8,25 -6,25 -5.5,15.5 -11.5,15.5 -12.2,14.8"],
"Mauritania": ["-17,21.3 -13,21.3 -13,23 -12,23.4 -12,26 -8.7,27.3 -4.8,25 -6,25 -5.5,15.5 -11.5,15.5 -12.2,14.8 -14,16.5 -16.5,16.2 -16,19"],
"Senegal": ["-17.5,14.7 -16.5,16.2 -14,16.5 -12.2,14.8 -11.4,12.4 -13.7,12.6 -16.7,12.4"],
"Gambia": ["-16.8,13.5 -14,13.6 -14,13.2 -16.7,13.1"],
"Guinea-Bissau": ["-16.7,12.4 -13.7,12.6 -13.7,11.7 -15.2,11"],
"Guinea": ["-15.2,11 -13.7,11.7 -13.7,12.6 -11.4,12.4 -8.4,11.3 -8,10.3 -8.5,7.6 -9.4,7.4 -10.3,8.5 -12.5,9.9 -13.3,9.5"],
"Sierra Leone": ["-13.3,9.5 -12.5,9.9 -10.3,8.5 -11.5,6.9 -13,7.8"],
"Liberia": ["-11.5,6.9 -10.3,8.5 -9.4,7.4 -8.5,7.6 -7.6,4.4"],
"Angola": ["12.3,-6 13.1,-5.9 16.3,-5.9 17,-7.4 19.5,-7 21.8,-7.3 22,-11 23.9,-11 24,-13 22,-13 22,-16.2 23.4,-17.6 20.8,-18 13.9,-17.4 11.8,-17.3 12.5,-13.5 13.8,-10.5 13,-8"],
"Zambia": ["23.9,-11 25.5,-11.8 27.2,-12 29,-13.4 29.8,-12.2 28.6,-9 30.8,-8.2 33,-9.5 33.2,-11 32.8,-13.6 33.2,-14 30.2,-15 28,-16.5 26,-17.9 25.3,-18 23.4,-17.6 22,-16.2 22,-13 24,-13"],
"Malawi": ["33,-9.5 34.9,-11.5 34.6,-13.5 35.3,-14.5 35.8,-16 35,-17 34.4,-15.5 32.8,-13.6 33.2,-11"],
"Mozambique": ["34.9,-11.5 37,-11.5 40.4,-10.5 40.7,-15 37,-17.9 34.9,-20 35.5,-23 33,-25.5 32.8,-26.9 32,-26 31.3,-22.4 32.8,-20 33,-17 30.4,-16 30.2,-15 33.2,-14 32.8,-13.6 34.4,-15.5 35,-17 35.8,-16 35.3,-14.5 34.6,-13.5"],
"Zimbabwe": ["25.3,-18 26,-17.9 28,-16.5 30.2,-15 30.4,-16 33,-17 32.8,-20 31.3,-22.4 29.4,-22.2 27.5,-20.5"],
"Botswana": ["20,-22 21,-22 21,-18.3 23.4,-17.6 25.3,-18 27.5,-20.5 29.4,-22.2 26.8,-24.7 25,-25.7 23,-25.3 20.8,-26.8 20,-24.8"],
"Namibia": ["11.8,-17.3 13.9,-17.4 20.8,-18 23.4,-17.6 21,-18.3 21,-22 20,-22 20,-28.4 17,-28.2 16.5,-28.6 14.5,-22.5"],
"South Africa": ["16.5,-28.6 17,-28.2 20,-28.4 20,-24.8 20.8,-26.8 23,-25.3 25,-25.7 26.8,-24.7 29.4,-22.2 31.3,-22.4 32,-26 32.8,-26.9 32,-29 30,-31.5 27,-33.6 25,-34 20,-34.8 18.4,-34.2 18.2,-32"],
"Lesotho": ["27,-29.6 28.5,-28.7 29.4,-29.5 28,-30.6"],
"Eswatini": ["31,-26 32,-26 31.9,-27.2 31,-27"],
"Madagascar": ["49.3,-12 50.5,-15.5 47,-25 45,-25.5 43.5,-23 44,-20 44,-17 46.5,-15.7"],
"Mauritius": ["57.3,-20.1 57.8,-20.2 57.5,-20.5"],
"Samoa": ["-172.5,-13.6 -171.5,-13.9 -172,-14"],
"Cape Verde": ["-24.9,16.9 -24.5,16.8 -24.7,16.6", "-23.7,15.3 -23.4,15.2 -23.5,14.9"],
"Australia": ["113.7,-22.5 114.2,-21.8 117,-20.7 119,-20 121.5,-19 122.3,-17.5 123.5,-17.3 124,-16 125,-14.5 127,-13.9 128.5,-14.9 129.5,-14.9 130,-13 131,-12.2 132.5,-11.3 135,-12.2 136.8,-12.2 136,-13.5 135.5,-15 137.5,-16 139,-17.5 140.8,-17.5 141.6,-15 141.7,-13 142.3,-10.8 143.5,-13 143.7,-14.5 145.3,-15 146,-18.5 148,-20 150,-22.5 151,-23.5 153,-25.5 153.5,-28 153,-31 151.5,-33.5 150,-37 147.5,-38 146.4,-39 144.7,-38 141,-38.2 139.7,-36.5 138.2,-35.6 138,-33 136,-34.8 135.2,-34.6 134,-32.8 131.2,-31.5 129,-31.7 126,-32.3 123.5,-33.9 120,-33.9 118,-35 115,-34.3 115.7,-32 114.8,-30 113.5,-26 113.5,-24", "144.8,-40.8 148.3,-40.9 148,-43 146.5,-43.5 145.3,-42.5"],
"New Zealand": ["172.7,-34.5 175.5,-36.8 178.5,-37.7 176.9,-39.5 175.3,-41.6 174.8,-39 174.7,-37", "172.8,-40.5 174.3,-41.7 172.7,-43.6 171,-45 170.5,-46 168.5,-46.6 166.5,-46 168,-44.2 170.5,-42.8"],
"New Caledonia": ["164,-20 167,-22.4 166,-22"],
"Fiji": ["177.3,-17.5 178.7,-17.8 178.3,-18.2"],
}

CLASS_GROUPS = [UNDER_5, BAND_5_15, BAND_15_25, BAND_25_35, BAND_35_UP, NO_DATA]

ROB_LAT = np.arange(0, 95, 5)
ROB_PLEN = [1, .9986, .9954, .99, .9822, .973, .96, .9427, .9216, .8962, .8679, .835, .7986, .7597, .7186, .6732, .6213, .5722, .5322]
ROB_PDFE = [0, .062, .124, .186, .248, .31, .372, .434, .4958, .5571, .6176, .6769, .7346, .7903, .8435, .8936, .9394, .9761, 1]


def robinson(lon, lat):
    plen = np.interp(np.abs(lat), ROB_LAT, ROB_PLEN)
    pdfe = np.interp(np.abs(lat), ROB_LAT, ROB_PDFE)
    return 0.8487 * plen * np.radians(lon), 1.3523 * pdfe * np.sign(lat)


def ring(text):
    pts = np.array([[float(v) for v in p.split(",")] for p in text.split()])
    out = []
    for a, b in zip(pts, np.roll(pts, -1, axis=0)):
        n = max(1, int(np.ceil(np.hypot(*(b - a)) / 2.0)))
        out.extend(a + (b - a) * t for t in np.arange(n) / n)
    out = np.array(out)
    return np.column_stack(robinson(out[:, 0], out[:, 1]))


W, H = 3200, 1720
X0, Y0, R = 1600, 985, 537

fig = plt.figure(figsize=(W / 200, H / 200), dpi=200, facecolor="white")
ax = fig.add_axes([0, 0, 1, 1])
ax.set_xlim(-X0 / R, (W - X0) / R)
ax.set_ylim((Y0 - H) / R, Y0 / R)
ax.axis("off")

for group, color in zip(CLASS_GROUPS, LEGEND_COLORS):
    for name in group:
        for text in SHAPES[name]:
            ax.add_patch(Polygon(ring(text), closed=True, facecolor=color, edgecolor="white",
                                 linewidth=0.4, joinstyle="round"))

fig.text(160 / W, 1 - 92 / H, TITLE, fontsize=23, fontweight="bold", color="#22344a", va="center", ha="left")
fig.text(160 / W, 1 - 160 / H, SUBTITLE, fontsize=12, color="#2a6454", va="center", ha="left")
fig.text(3104 / W, 1 - 1680 / H, SOURCE, fontsize=9.0, color="#4f8f7b", va="center", ha="right")

handles = [Patch(facecolor=c, edgecolor="none", label=l) for c, l in zip(LEGEND_COLORS, LEGEND_LABELS)]
fig.legend(handles=handles, loc="center", bbox_to_anchor=(1600 / W, 1 - 1561 / H), ncol=6, frameon=False,
           fontsize=9.5, labelcolor="#22344a", handlelength=1.9, handleheight=0.7, handletextpad=0.85,
           columnspacing=2.05)

fig.savefig("out.png", dpi=200, facecolor="white")
